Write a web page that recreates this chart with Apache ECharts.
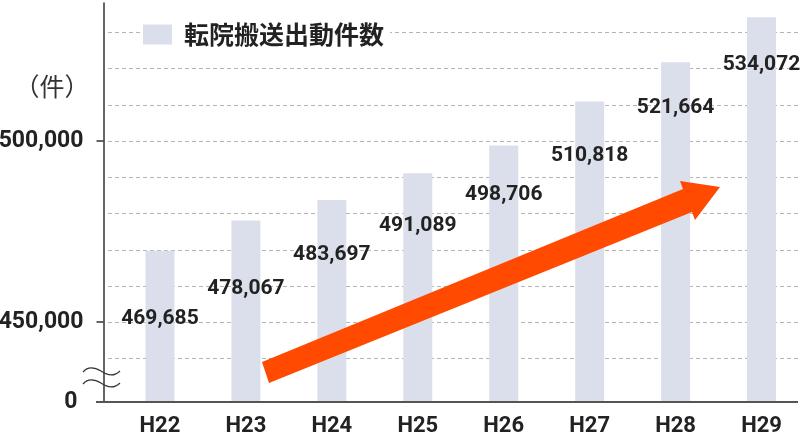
<!DOCTYPE html>
<html><head><meta charset="utf-8">
<script src="https://cdn.jsdelivr.net/npm/echarts@6/dist/echarts.min.js"></script>
<style>html,body{margin:0;padding:0;background:#fff}#c{width:801px;height:438px}</style>
</head><body><div id="c"></div>
<script>
const categories = ['H22','H23','H24','H25','H26','H27','H28','H29'];
const transferCounts = [469685,478067,483697,491089,498706,510818,521664,534072];
const seriesName = '転院搬送出動件数';
const yLabelValues = [428000, 450000, 500000];
const yLabelTexts = ['0', '450,000', '500,000'];
const yTickValues = [450000, 500000];
const gridValues = [440000,450000,460000,470000,480000,490000,500000,510000,520000,530000];
const labelDrop = [68,68,55,53,49,54,45,48];
const unitLabel = '（件）';

const numFont = 'Roboto, "Noto Sans", sans-serif';
const jpFont = '"Noto Sans CJK JP", "Noto Sans", sans-serif';

const chart = echarts.init(document.getElementById('c'), null, {renderer:'canvas'});
chart.setOption({
  animation:false,
  backgroundColor:'#fff',
  grid:{left:117, right:-3.5, top:3, bottom:36, containLabel:false, outerBoundsMode:'none'},
  legend:{
    data:[seriesName], left:140, top:19, icon:'rect', itemWidth:29, itemHeight:20,
    backgroundColor:'#fff', padding:[3,6,3,3],
    textStyle:{fontFamily:jpFont, fontSize:25, fontWeight:'bold', color:'#222', padding:[0,0,0,7]}
  },
  xAxis:{
    type:'category', data:categories,
    axisLine:{show:false}, axisTick:{show:false},
    axisLabel:{fontFamily:numFont, fontSize:22, fontWeight:'bold', color:'#222', margin:13}
  },
  yAxis:{
    type:'value', min:428000, max:538000, offset:13.5,
    splitLine:{show:false},
    axisLine:{show:true, lineStyle:{color:'#333', width:1.5}},
    axisTick:{show:true, customValues:yTickValues, length:7, lineStyle:{color:'#333', width:1.5}},
    axisLabel:{
      customValues:yLabelValues, margin:20, fontFamily:numFont, fontSize:23, fontWeight:'bold', color:'#222',
      formatter:function(v){ const i=yLabelValues.indexOf(v); return i===0 ? '{z|'+yLabelTexts[i]+'}' : yLabelTexts[i]; },
      rich:{z:{fontFamily:numFont, fontSize:23, fontWeight:'bold', color:'#222', padding:[0,6,0,0]}}
    }
  },
  series:[{
    name:seriesName, type:'bar', barWidth:29, z:2,
    itemStyle:{color:'#DBDFEB'},
    data:transferCounts.map(function(v,i){
      return {value:v, label:{offset:[0,labelDrop[i]]}};
    }),
    label:{
      show:true, position:'insideTop', distance:0, verticalAlign:'middle',
      fontFamily:numFont, fontSize:21, fontWeight:'bold', color:'#222',
      formatter:function(p){ return p.value.toLocaleString('en-US'); }
    }
  }]
});

const yAt = function(v){ return chart.convertToPixel({yAxisIndex:0}, v); };
const graphics = gridValues.map(function(v){
  const y = Math.round(yAt(v)) + 0.5;
  return {type:'line', z:1, silent:true, shape:{x1:108, y1:y, x2:800, y2:y},
    style:{stroke:'#b4b4b4', lineWidth:1, lineDash:[4,3]}};
});
const yBase = yAt(428000);
graphics.push({type:'line', z:3, shape:{x1:96, y1:yBase, x2:798, y2:yBase}, style:{stroke:'#555', lineWidth:2}});
[372, 384].forEach(function(y0){
  graphics.push({type:'bezierCurve', z:5, shape:{x1:83, y1:y0, cpx1:88, cpy1:y0-6, cpx2:94, cpy2:y0-5, x2:101, y2:y0-1}, style:{fill:null, stroke:'#333', lineWidth:1.2}});
  graphics.push({type:'bezierCurve', z:5, shape:{x1:101, y1:y0-1, cpx1:108, cpy1:y0+4, cpx2:114, cpy2:y0+5, x2:120, y2:y0-1}, style:{fill:null, stroke:'#333', lineWidth:1.2}});
});
graphics.push({type:'polygon', z:10, shape:{points:[[262,362],[683,189],[680,181],[720,187],[695,220],[692,212],[269,383]]}, style:{fill:'#FF4A00'}});
graphics.push({type:'text', z:5, style:{text:unitLabel, x:52, y:86, align:'center', verticalAlign:'middle', font:'normal 25px "Noto Sans CJK JP"', fontFamily:jpFont, fontSize:25, fill:'#333'}});
chart.setOption({graphic:graphics});
</script>
</body></html>
